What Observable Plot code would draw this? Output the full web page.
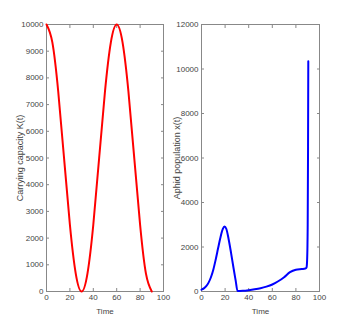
<!DOCTYPE html>
<html><head><meta charset="utf-8">
<script src="https://cdn.jsdelivr.net/npm/d3@7"></script>
<script src="https://cdn.jsdelivr.net/npm/@observablehq/plot@0.6"></script>
<style>
body{margin:0;background:#fff;}
#wrap{position:relative;width:353px;height:327px;}
#wrap svg{position:absolute;top:0;font-family:"Liberation Sans",Arial,sans-serif;}
#wrap g[aria-label="y-axis label"] text{font-size:9px;}
</style></head><body><div id="wrap"></div>
<script>
// Carrying capacity K(t)
const kTime = [0,5,10,15,20,25,30,35,40,45,50,55,60,65,70,75,80,85,90];
const kValue = [10000,9330,7500,5000,2500,670,0,670,2500,5000,7500,9330,10000,9330,7500,5000,2500,670,0];
// Aphid population x(t)
const xTime = [0,2,4,6,8,10,12,14,16,18,19.5,21,23,25,27,29,30.5,35,40,45,50,55,60,65,70,75,80,85,88,89,89.5,90,90.3,90.5];
const xValue = [80,140,240,400,640,980,1430,1930,2420,2800,2920,2820,2350,1750,1100,480,20,30,60,100,150,220,315,460,640,870,980,1010,1030,1080,1400,3000,6500,10350];
const timeTicks = [0,20,40,60,80,100];
const kTicks = [0,1000,2000,3000,4000,5000,6000,7000,8000,9000,10000];
const xTicks = [0,2000,4000,6000,8000,10000,12000];

const kData = kTime.map((t,i)=>({t, v:kValue[i]}));
const xData = xTime.map((t,i)=>({t, v:xValue[i]}));

const grey = "#444";
function panel({data, color, curve, yDomain, yTicks, yLabel, width, ml, mr, lo}) {
  return Plot.plot({
    width, height: 327,
    marginLeft: ml, marginRight: mr, marginTop: 24, marginBottom: 36,
    style: {fontSize: "8px", color: grey, fontFamily: "Liberation Sans, Arial, sans-serif", overflow: "visible"},
    x: {domain: [0,100]},
    y: {domain: yDomain},
    marks: [
      Plot.frame({stroke: "#888", strokeWidth: 1}),
      Plot.axisX(timeTicks, {anchor: "bottom", tickSize: -3, tickPadding: 6, stroke: "#888", label: "Time", labelAnchor: "center", labelArrow: "none", labelOffset: 22}),
      Plot.axisX(timeTicks, {anchor: "top", tickSize: -3, stroke: "#888", tickFormat: () => "", label: null}),
      Plot.axisY(yTicks, {anchor: "left", tickSize: -3, tickPadding: 6, stroke: "#888", tickFormat: d3.format("d"), label: yLabel, labelAnchor: "center", labelArrow: "none", labelOffset: lo}),
      Plot.axisY(yTicks, {anchor: "right", tickSize: -3, stroke: "#888", tickFormat: () => "", label: null}),
      Plot.line(data, {x: "t", y: "v", stroke: color, strokeWidth: 2, curve})
    ]
  });
}
const left = panel({data: kData, color: "#ff0000", curve: "natural", yDomain: [0,10000], yTicks: kTicks, yLabel: "Carrying capacity K(t)", width: 176, ml: 46, mr: 13, lo: 30});
const right = panel({data: xData, color: "#0000ff", curve: "monotone-x", yDomain: [0,12000], yTicks: xTicks, yLabel: "Aphid population x(t)", width: 177, ml: 25, mr: 34, lo: 28});
left.style.left = "0px";
right.style.left = "176px";
document.getElementById("wrap").append(left, right);
</script></body></html>
